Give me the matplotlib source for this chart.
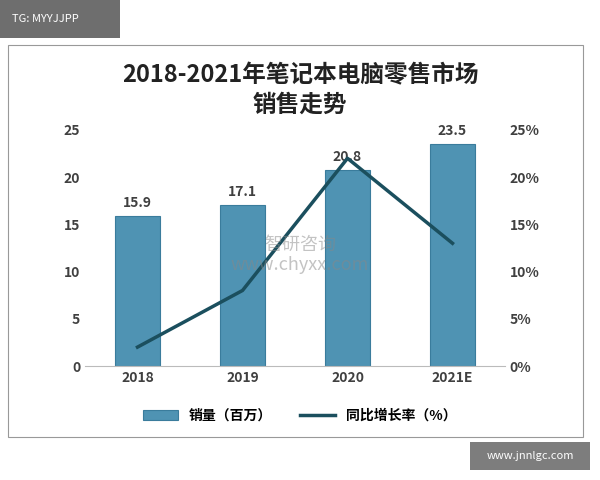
import matplotlib
matplotlib.use("Agg")
import matplotlib.pyplot as plt
from matplotlib.patches import Rectangle

plt.rcParams['font.family'] = ['Noto Sans CJK SC', 'DejaVu Sans']

years = ["2018", "2019", "2020", "2021E"]
sales = [15.9, 17.1, 20.8, 23.5]
growth = [2, 8, 22, 13]

fig = plt.figure(figsize=(6, 4.8), dpi=100)
fig.patch.set_facecolor('white')
# outer frame
fig.add_artist(Rectangle((8/600, 1-437/480), 575/600, 392/480, transform=fig.transFigure,
                         fill=False, edgecolor='#999999', lw=0.8))
# tag box
fig.add_artist(Rectangle((0, 1-38/480), 120/600, 38/480, transform=fig.transFigure,
                         facecolor='#555555', edgecolor='none', alpha=0.85))
fig.text(12/600, 1-19/480, "TG: MYYJJPP", color='white', fontsize=8, va='center')
fig.add_artist(Rectangle((470/600, 1-470/480), 120/600, 28/480, transform=fig.transFigure,
                         facecolor='#666666', edgecolor='none', alpha=0.85))
fig.text(530/600, 1-456/480, "www.jnnlgc.com", color='white', fontsize=8, va='center', ha='center')

ax = fig.add_axes([85/600, 1-366/480, 420/600, 236/480])
x = range(len(years))
bars = ax.bar(x, sales, width=0.42, color='#4f93b3', edgecolor='#3a7c9c', lw=0.8, label='销量（百万）')
for xi, v in zip(x, sales):
    ax.text(xi, v + 0.6, f"{v}", ha='center', va='bottom', fontsize=10, fontweight='bold', color='#404040')
ax.set_ylim(0, 25)
ax.set_yticks(range(0, 26, 5))
ax.set_xlim(-0.5, 3.5)
ax.set_xticks(list(x))
ax.set_xticklabels(years, fontweight='bold', fontsize=10, color='#404040')
ax.tick_params(axis='y', labelsize=10, colors='#404040', length=0)
ax.tick_params(axis='x', length=0)
for lab in ax.get_yticklabels():
    lab.set_fontweight('bold')
for s in ['top', 'right', 'left']:
    ax.spines[s].set_visible(False)
ax.spines['bottom'].set_color('#bbbbbb')

ax2 = ax.twinx()
ln, = ax2.plot(list(x), growth, color='#1b4f5e', lw=2.5, label='同比增长率（%）')
ax2.set_ylim(0, 25)
ax2.set_yticks(range(0, 26, 5))
ax2.set_yticklabels([f"{v}%" for v in range(0, 26, 5)], fontweight='bold', fontsize=10, color='#404040')
ax2.tick_params(axis='y', length=0)
for s in ['top', 'right', 'left', 'bottom']:
    ax2.spines[s].set_visible(False)

fig.text(0.5, 1-75/480, "2018-2021年笔记本电脑零售市场", ha='center', va='center',
         fontsize=17, fontweight='bold', color='#222222')
fig.text(0.5, 1-105/480, "销售走势", ha='center', va='center',
         fontsize=17, fontweight='bold', color='#222222')
fig.text(0.5, 1-255/480, "智研咨询\nwww.chyxx.com", ha='center', va='center',
         fontsize=13, color='#888888', alpha=0.5)

fig.legend(handles=[bars, ln], loc='center', bbox_to_anchor=(0.5, 1-416/480), ncol=2,
           frameon=False, prop={'weight': 'bold', 'size': 10}, handlelength=2.5, columnspacing=2)

fig.savefig("out.png", dpi=100)
